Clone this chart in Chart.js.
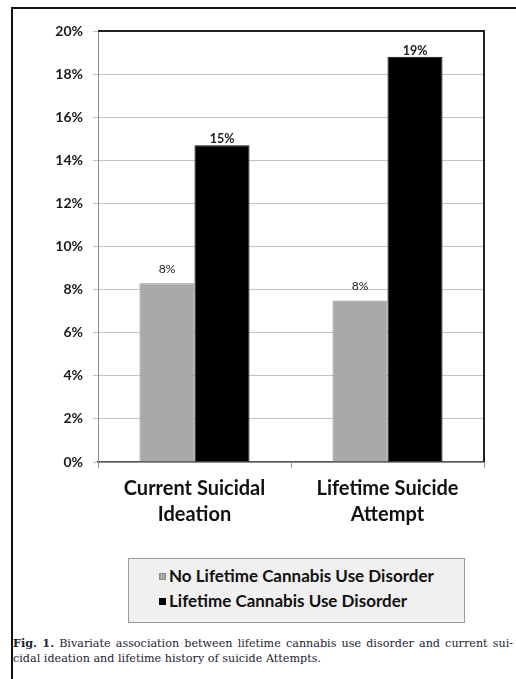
<!DOCTYPE html>
<html>
<head>
<meta charset="utf-8">
<script src="https://cdn.jsdelivr.net/npm/chart.js@4.4.1/dist/chart.umd.min.js"></script>
<style>
  html, body { margin: 0; padding: 0; background: #fff; width: 516px; height: 679px; overflow: hidden; }
  #frame { position: absolute; left: 11px; top: 7px; width: 600px; height: 800px;
           border-left: 2px solid #111; border-top: 2px solid #111; }
  #chart { position: absolute; left: 0; top: 0; }
  #legend { position: absolute; left: 128px; top: 558px; width: 335px; height: 63px;
            background: #f0f0f0; border: 1px solid #9a9a9a; font-family: Lato, "Open Sans", sans-serif;
            font-weight: bold; font-size: 17px; color: #111; }
  .item { position: absolute; left: 30px; height: 20px; line-height: 20px; white-space: nowrap; }
  .sw { display: inline-block; width: 7px; height: 7px; margin-right: 3px; vertical-align: 2px; box-sizing: border-box; }
  #caption { position: absolute; left: 13px; top: 636px; width: 500px; font-family: "DejaVu Serif", "Liberation Serif", serif;
             font-size: 11.2px; line-height: 15px; color: #1c2333; }
  #caption .l1 { text-align: justify; text-align-last: justify; }
</style>
</head>
<body>
<div id="frame"></div>
<canvas id="chart" width="516" height="540"></canvas>
<div id="legend"></div>
<div id="caption">
  <div class="l1"><b>Fig. 1.</b> Bivariate association between lifetime cannabis use disorder and current sui-</div>
  <div>cidal ideation and lifetime history of suicide Attempts.</div>
</div>
<script>
const categories = [["Current Suicidal", "Ideation"], ["Lifetime Suicide", "Attempt"]];
const seriesNames = ["No Lifetime Cannabis Use Disorder", "Lifetime Cannabis Use Disorder"];
const noDisorder = [8.3, 7.5];
const withDisorder = [14.7, 18.8];
const yTicks = [0, 2, 4, 6, 8, 10, 12, 14, 16, 18, 20];

const labelPlugin = {
  id: 'barLabels',
  afterDatasetsDraw(chart) {
    const ctx = chart.ctx;
    ctx.save();
    chart.data.datasets.forEach((ds, di) => {
      const meta = chart.getDatasetMeta(di);
      meta.data.forEach((bar, i) => {
        const v = ds.data[i];
        ctx.font = (di === 1 ? 'bold 12.5px ' : '12px ') + 'Lato, "Open Sans", sans-serif';
        ctx.fillStyle = '#222';
        ctx.textAlign = 'center';
        ctx.textBaseline = 'bottom';
        ctx.fillText(Math.round(v) + '%', bar.x, bar.y - (di === 1 ? 0 : 8));
      });
    });
    ctx.restore();
  }
};

const framePlugin = {
  id: 'plotFrame',
  afterDraw(chart) {
    const a = chart.chartArea, ctx = chart.ctx;
    ctx.save();
    ctx.strokeStyle = '#222';
    ctx.lineWidth = 2;
    ctx.beginPath();
    ctx.moveTo(a.left, a.top);
    ctx.lineTo(a.right, a.top);
    ctx.lineTo(a.right, a.bottom);
    ctx.stroke();
    ctx.restore();
  }
};

const chart = new Chart(document.getElementById('chart'), {
  type: 'bar',
  data: {
    labels: categories,
    datasets: [
      { label: seriesNames[0], data: noDisorder, backgroundColor: '#a9a9a9', borderColor: '#8a8a8a', borderWidth: 1 },
      { label: seriesNames[1], data: withDisorder, backgroundColor: '#000', borderColor: '#000', borderWidth: 1 }
    ]
  },
  options: {
    responsive: false,
    animation: false,
    devicePixelRatio: 1,
    layout: { padding: { top: 31, right: 32, left: 0, bottom: 0 } },
    datasets: { bar: { barPercentage: 1, categoryPercentage: 0.57 } },
    plugins: { legend: { display: false }, tooltip: { enabled: false } },
    scales: {
      x: {
        grid: { drawOnChartArea: false, drawTicks: true, tickLength: 6, color: '#999' },
        border: { color: '#555', width: 1.5 },
        ticks: { font: { family: 'Lato, "Open Sans", sans-serif', weight: 'bold', size: 20, lineHeight: 1.3 },
                 color: '#111', padding: 8, maxRotation: 0 },
        afterFit(s) { s.height = 78; }
      },
      y: {
        min: 0, max: 20,
        afterBuildTicks(s) { s.ticks = yTicks.map(v => ({ value: v })); },
        grid: { color: '#c4c4c4', tickLength: 5 },
        border: { color: '#8a8a8a', width: 1 },
        ticks: { font: { family: 'Lato, "Open Sans", sans-serif', weight: 'bold', size: 14 },
                 color: '#1a1a1a', padding: 10, callback: v => v + '%' },
        afterFit(s) { s.width = 98; }
      }
    }
  },
  plugins: [labelPlugin, framePlugin]
});

const legend = document.getElementById('legend');
chart.data.datasets.forEach((ds, i) => {
  const d = document.createElement('div');
  d.className = 'item';
  d.style.top = (7 + i * 25) + 'px';
  const sw = document.createElement('span');
  sw.className = 'sw';
  sw.style.background = ds.backgroundColor;
  sw.style.border = '1px solid ' + ds.borderColor;
  d.appendChild(sw);
  d.appendChild(document.createTextNode(ds.label));
  legend.appendChild(d);
});
</script>
</body>
</html>
